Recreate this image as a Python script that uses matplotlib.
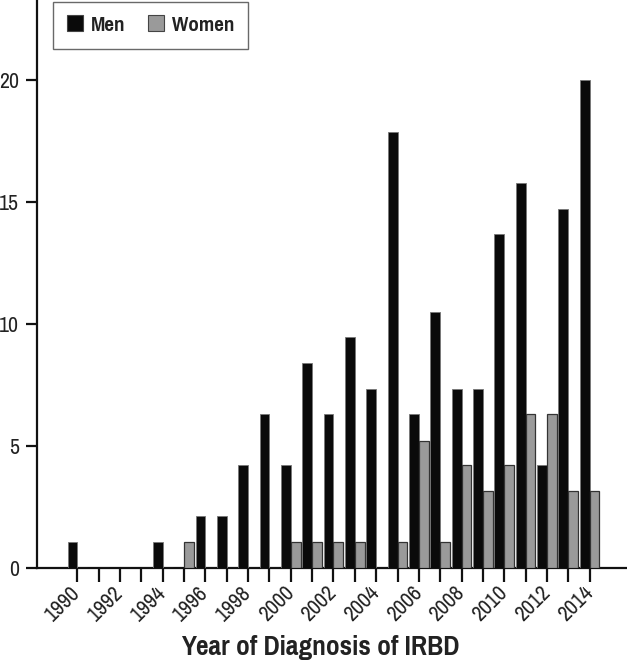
import matplotlib
matplotlib.use("Agg")
import matplotlib.pyplot as plt
from matplotlib.patches import Patch
import numpy as np

years = list(range(1990, 2015))
men = [1.05, 0, 0, 0, 1.05, 0, 2.1, 2.1, 4.2, 6.3, 4.2, 8.4, 6.3, 9.45, 7.35,
       17.9, 6.3, 10.5, 7.35, 7.35, 13.7, 15.8, 4.2, 14.7, 20.0]
women = [0, 0, 0, 0, 0, 1.05, 0, 0, 0, 0, 1.05, 1.05, 1.05, 1.05, 0,
         1.05, 5.2, 1.05, 4.2, 3.15, 4.2, 6.3, 6.3, 3.15, 3.15]
major_ticks = list(range(1990, 2015, 2))
minor_ticks = list(range(1991, 2014, 2))
yticks = [0, 5, 10, 15, 20]
series_labels = ["Men", "Women"]
xlabel = "Year of Diagnosis of IRBD"

FAM = ["Pragati Narrow", "Asap Condensed", "Liberation Sans", "DejaVu Sans"]
plt.rcParams['font.family'] = FAM

fig = plt.figure(figsize=(6.27, 6.68), dpi=100)
ax = fig.add_axes([0.059, 0.1504, 0.941, 0.8496])

w = 0.46
x = np.array(years, dtype=float)
ax.bar(x - w / 2, men, width=w, color="#0a0a0a", edgecolor="#777777", linewidth=0.6, zorder=3)
ax.bar(x + w / 2, women, width=w, color="#9a9a9a", edgecolor="#333333", linewidth=0.9, zorder=3)

ax.set_xlim(1988.11, 2015.75)
ax.set_ylim(0, 23.3)

for s in ["top", "right"]:
    ax.spines[s].set_visible(False)
for s in ["left", "bottom"]:
    ax.spines[s].set_linewidth(1.6)
    ax.spines[s].set_color("#111111")

ax.set_yticks(yticks)
ax.set_yticklabels([str(v) for v in yticks], fontsize=17)
ax.tick_params(axis="y", direction="out", length=8, width=1.6, pad=5, colors="#111111")

ax.set_xticks(major_ticks)
ax.set_xticks(minor_ticks, minor=True)
ax.set_xticklabels([str(v) for v in major_ticks], fontsize=17, rotation=45,
                   ha="right", va="center", rotation_mode="anchor")
ax.tick_params(axis="x", which="both", direction="out", length=10, width=1.6, pad=6, colors="#111111")
for lab in ax.get_xticklabels() + ax.get_yticklabels():
    lab.set_color("#222222")

ax.set_xlabel(xlabel, fontsize=21.5, fontweight="bold", color="#222222", va="top")
ax.xaxis.set_label_coords(0.48, -0.118)

handles = [Patch(facecolor="#0a0a0a", edgecolor="#444444", linewidth=0.8),
           Patch(facecolor="#9a9a9a", edgecolor="#444444", linewidth=0.8)]
leg = ax.legend(handles, series_labels, loc="upper left", bbox_to_anchor=(0.027, 0.997),
                borderaxespad=0, ncol=2, frameon=True, fancybox=False, borderpad=0.6,
                handlelength=0.7, handleheight=0.7, handletextpad=0.35, columnspacing=1.0,
                prop={"family": FAM, "weight": "bold", "size": 16.5})
leg.get_frame().set_edgecolor("#444444")
leg.get_frame().set_linewidth(1.0)
for t in leg.get_texts():
    t.set_color("#222222")

fig.savefig("out.png", dpi=100)
